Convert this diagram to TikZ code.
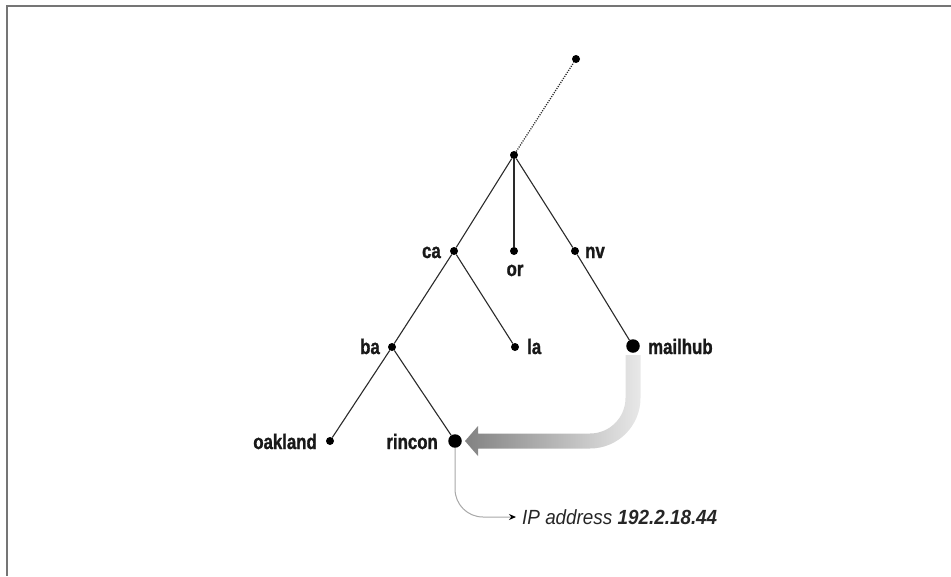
\documentclass[tikz,border=0pt]{standalone}
\usepackage{fontspec}
\setmainfont{Liberation Sans}
\newfontfamily\lblfont{Liberation Sans}[FakeStretch=0.8, BoldFeatures={FakeBold=1.2}]
\newfontfamily\ipfont{Liberation Sans}[FakeStretch=0.92]
\usetikzlibrary{arrows.meta,calc}
\definecolor{edgecol}{HTML}{2A2A2A}
\definecolor{framecol}{HTML}{757575}
\definecolor{ipline}{HTML}{A8A8A8}
\definecolor{shdark}{HTML}{828282}
\definecolor{shmid}{HTML}{D3D3D3}
\definecolor{shlight}{HTML}{E8E8E8}
\tikzset{
  tdot/.style={circle, fill=black, inner sep=0pt, minimum size=8pt},
  bigdot/.style={circle, fill=black, inner sep=0pt, minimum size=13.5pt},
  lbl/.style={font=\lblfont\bfseries\fontsize{21}{24}\selectfont, inner sep=0pt, text=black!90},
  iplbl/.style={font=\ipfont\itshape\fontsize{20.5}{24}\selectfont, inner sep=0pt, text=black!85},
  edge/.style={draw=edgecol, line width=1.1pt},
  dotedge/.style={draw=edgecol, line width=1.3pt, dash pattern=on 1.1pt off 1.3pt},
}
\begin{document}
\begin{tikzpicture}[x=1pt,y=-1pt]
\useasboundingbox (0,0) rectangle (951,576);
% frame
\draw[framecol, line width=2pt] (951,5.5) -- (7,5.5) -- (7,576);

% dots
\node[tdot] (root) at (576,59) {};
\node[tdot] (mid) at (514,155) {};
\node[tdot] (ca) at (454,251) {};
\node[tdot] (or) at (514,251) {};
\node[tdot] (nv) at (575,251) {};
\node[tdot] (ba) at (392,347) {};
\node[tdot] (la) at (515,347) {};
\node[bigdot] (mailhub) at (633,346) {};
\node[tdot] (oakland) at (330,441) {};
\node[bigdot] (rincon) at (455,441) {};

% labels
\node[lbl, anchor=base east] (lca) at (441,258) {ca};
\node[lbl, anchor=base] (lor) at (515,276) {or};
\node[lbl, anchor=base west] (lnv) at (585,258) {nv};
\node[lbl, anchor=base east] (lba) at (380,354) {ba};
\node[lbl, anchor=base west] (lla) at (527,354) {la};
\node[lbl, anchor=base west] (lmailhub) at (648,354) {mailhub};
\node[lbl, anchor=base east] (loakland) at (317,449) {oakland};
\node[lbl, anchor=base east] (lrincon) at (438,449) {rincon};
\node[iplbl, anchor=west] (ip) at (522,517) {IP address \textbf{192.2.18.44}};

% tree edges
\draw[dotedge] (mid) -- (root);
\draw[edge] (mid) -- (ca);
\draw[edge] (mid) -- (or);
\draw[edge] (mid) -- (nv);
\draw[edge] (ca) -- (ba);
\draw[edge] (ca) -- (la);
\draw[edge] (nv) -- (mailhub);
\draw[edge] (ba) -- (oakland);
\draw[edge] (ba) -- (rincon);

% IP connector
\draw[ipline, line width=1pt, rounded corners=28pt,
      -{Stealth[black, length=7pt, width=6pt]}]
  (rincon) |- ([xshift=-6pt]ip.west);

% shaded arrow mailhub -> rincon
\coordinate (C) at (mailhub |- rincon);
\shade[left color=shdark, middle color=shmid, right color=shlight]
  ($(mailhub)+(7.5,9)$) -- ($(C)+(7.5,-43)$)
  .. controls ($(C)+(7.5,-15.1)$) and ($(C)+(-15.1,7.5)$) .. ($(C)+(-43,7.5)$)
  -- ($(rincon)+(23,7.5)$) -- ($(rincon)+(23,15)$) -- ($(rincon)+(10,0)$)
  -- ($(rincon)+(23,-15)$) -- ($(rincon)+(23,-7.5)$)
  -- ($(C)+(-43,-7.5)$)
  .. controls ($(C)+(-23.4,-7.5)$) and ($(C)+(-7.5,-23.4)$) .. ($(C)+(-7.5,-43)$)
  -- ($(mailhub)+(-7.5,9)$) -- cycle;
\end{tikzpicture}
\end{document}
